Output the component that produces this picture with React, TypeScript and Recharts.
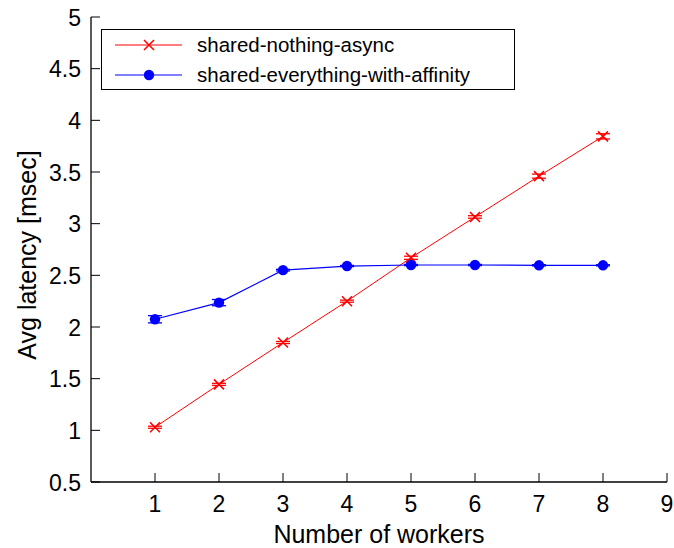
import React from 'react';
import { LineChart, Line, XAxis, YAxis, ErrorBar, Legend } from 'recharts';

const workers = [1, 2, 3, 4, 5, 6, 7, 8];
const nothingAsync = [1.03, 1.445, 1.85, 2.25, 2.67, 3.065, 3.46, 3.845];
const nothingAsyncErr = [0.01, 0.01, 0.01, 0.01, 0.015, 0.012, 0.02, 0.025];
const everythingAffinity = [2.075, 2.236, 2.55, 2.59, 2.6, 2.6, 2.597, 2.597];
const everythingAffinityErr = [0.035, 0.03, 0.008, 0.006, 0.006, 0.006, 0.006, 0.006];
const seriesNames = ['shared-nothing-async', 'shared-everything-with-affinity'];
const xTicks = [1, 2, 3, 4, 5, 6, 7, 8, 9];
const yTicks = [0.5, 1, 1.5, 2, 2.5, 3, 3.5, 4, 4.5, 5];
const xTitle = 'Number of workers';
const yTitle = 'Avg latency [msec]';

const data = workers.map((w, i) => ({
  w,
  a: nothingAsync[i],
  aErr: nothingAsyncErr[i],
  b: everythingAffinity[i],
  bErr: everythingAffinityErr[i],
}));

const FONT = '"Liberation Sans", Arial, Helvetica, sans-serif';
const RED = '#ff0000';
const BLUE = '#0000ff';
const TICK = 9;

const fmt = (v: number) => String(v);

const BottomTick = (p: any) => (
  <g>
    <line x1={p.x} y1={p.y} x2={p.x} y2={p.y - TICK} stroke="#000" strokeWidth={1} />
    <text x={p.x} y={p.y + 30} textAnchor="middle" fontSize={23} fontFamily={FONT} fill="#000">
      {fmt(p.payload.value)}
    </text>
  </g>
);
const TopTick = (p: any) => (
  <line x1={p.x} y1={p.y} x2={p.x} y2={p.y + TICK} stroke="#000" strokeWidth={1} />
);
const LeftTick = (p: any) => (
  <g>
    <line x1={p.x} y1={p.y} x2={p.x + TICK} y2={p.y} stroke="#000" strokeWidth={1} />
    <text x={p.x - 10} y={p.y + 8.5} textAnchor="end" fontSize={23} fontFamily={FONT} fill="#000">
      {fmt(p.payload.value)}
    </text>
  </g>
);
const RightTick = (p: any) => (
  <line x1={p.x} y1={p.y} x2={p.x - TICK} y2={p.y} stroke="#000" strokeWidth={1} />
);

const Cross = ({ cx, cy, color = RED }: any) => (
  <path
    d={`M${cx - 5},${cy - 5}L${cx + 5},${cy + 5}M${cx - 5},${cy + 5}L${cx + 5},${cy - 5}`}
    stroke={color}
    strokeWidth={1.5}
    fill="none"
  />
);

const CrossDot = (props: any) => {
  if (props.cx == null || props.cy == null) return <g key={props.index} />;
  return <Cross key={props.index} cx={props.cx} cy={props.cy} />;
};
const CircleDot = (props: any) => {
  if (props.cx == null || props.cy == null) return <g key={props.index} />;
  return <circle key={props.index} cx={props.cx} cy={props.cy} r={5.2} fill={BLUE} stroke="none" />;
};

const LegendBox = (props: any) => {
  const items = [...(props.payload || [])].sort(
    (p: any, q: any) => seriesNames.indexOf(p.value) - seriesNames.indexOf(q.value)
  );
  return (
    <svg width={415} height={62} style={{ display: 'block' }}>
      <rect x={0.5} y={0.5} width={413} height={60} fill="#fff" stroke="#000" strokeWidth={1} />
      {items.map((it: any, i: number) => {
        const y = 16 + i * 30;
        const color = it.color;
        return (
          <g key={i}>
            <line x1={14} y1={y} x2={81} y2={y} stroke={color} strokeWidth={1} />
            {it.dataKey === 'a' ? (
              <Cross cx={48} cy={y} color={color} />
            ) : (
              <circle cx={48} cy={y} r={5.2} fill={color} />
            )}
            <text x={96} y={y + 7} fontSize={20.5} fontFamily={FONT} fill="#000">
              {it.value}
            </text>
          </g>
        );
      })}
    </svg>
  );
};

const XLabel = (p: any) => {
  const vb = p.viewBox;
  return (
    <text x={vb.x + vb.width / 2} y={vb.y + 61} textAnchor="middle" fontSize={25} fontFamily={FONT} fill="#000">
      {xTitle}
    </text>
  );
};
const YLabel = (p: any) => {
  const vb = p.viewBox;
  const cx = vb.x + 27;
  const cy = vb.y + vb.height / 2 + 5.5;
  return (
    <text
      x={cx}
      y={cy}
      transform={`rotate(-90, ${cx}, ${cy})`}
      textAnchor="middle"
      dominantBaseline="central"
      fontSize={25}
      fontFamily={FONT}
      fill="#000"
    >
      {yTitle}
    </text>
  );
};

export default function App() {
  return (
    <div style={{ position: 'absolute', left: 0, top: 0, background: '#fff' }}>
      <LineChart width={674} height={548} data={data} margin={{ top: 17, right: 7, left: 0, bottom: 0 }}>
        <XAxis
          dataKey="w"
          type="number"
          domain={[0, 9]}
          ticks={xTicks}
          interval={0}
          height={66}
          tickSize={0}
          tickMargin={0}
          tickLine={false}
          axisLine={{ stroke: '#000', strokeWidth: 1.3 }}
          tick={<BottomTick />}
          label={<XLabel />}
        />
        <XAxis
          xAxisId="top"
          orientation="top"
          dataKey="w"
          type="number"
          domain={[0, 9]}
          ticks={xTicks}
          interval={0}
          height={0}
          tickSize={0}
          tickMargin={0}
          tickLine={false}
          axisLine={{ stroke: '#000', strokeWidth: 1.3 }}
          tick={<TopTick />}
        />
        <YAxis
          type="number"
          domain={[0.5, 5]}
          ticks={yTicks}
          interval={0}
          width={91}
          tickSize={0}
          tickMargin={0}
          tickLine={false}
          axisLine={{ stroke: '#000', strokeWidth: 1.3 }}
          tick={<LeftTick />}
          label={<YLabel />}
        />
        <YAxis
          yAxisId="right"
          orientation="right"
          type="number"
          domain={[0.5, 5]}
          ticks={yTicks}
          interval={0}
          width={0}
          tickSize={0}
          tickMargin={0}
          tickLine={false}
          axisLine={{ stroke: '#000', strokeWidth: 1.3 }}
          tick={<RightTick />}
        />
        <Legend
          layout="horizontal"
          verticalAlign="middle"
          align="center"
          content={<LegendBox />}
          wrapperStyle={{ position: 'absolute', left: 101, top: 29, width: 415, height: 62 }}
        />
        <Line
          name={seriesNames[0]}
          dataKey="a"
          stroke={RED}
          strokeWidth={1}
          dot={CrossDot}
          activeDot={false}
          isAnimationActive={false}
        >
          <ErrorBar dataKey="aErr" width={7} stroke={RED} strokeWidth={1.3} direction="y" />
        </Line>
        <Line
          name={seriesNames[1]}
          dataKey="b"
          stroke={BLUE}
          strokeWidth={1.2}
          dot={CircleDot}
          activeDot={false}
          isAnimationActive={false}
        >
          <ErrorBar dataKey="bErr" width={7} stroke={BLUE} strokeWidth={1.3} direction="y" />
        </Line>
      </LineChart>
    </div>
  );
}
